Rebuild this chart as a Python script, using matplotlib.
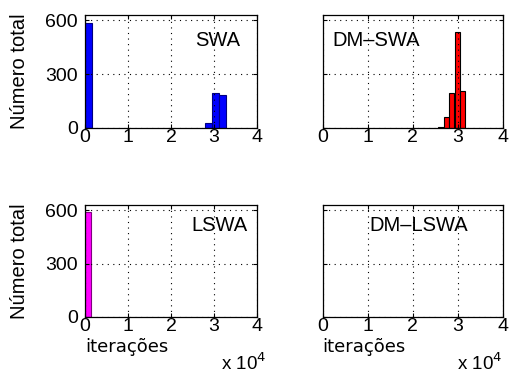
import matplotlib
matplotlib.use("Agg")
import matplotlib.pyplot as plt

# data
swa_edges = [0.0, 2.80, 2.96, 3.12]
swa_width = [0.17, 0.16, 0.16, 0.16]
swa_counts = [588, 26, 192, 183]

dmswa_edges = [2.57, 2.69, 2.81, 2.93, 3.04]
dmswa_width = 0.115
dmswa_counts = [4, 58, 196, 535, 207]

lswa_edges = [0.0]
lswa_width = 0.14
lswa_counts = [592]

xticks = [0, 1, 2, 3, 4]
yticks = [0, 300, 600]
titles = ["SWA", "DM\u2013SWA", "LSWA", "DM\u2013LSWA"]

plt.rcParams['font.family'] = ['Liberation Sans', 'DejaVu Sans']
fig = plt.figure(figsize=(5.09, 3.76), dpi=100)

pos = [
    [0.167, 0.660, 0.338, 0.300],
    [0.634, 0.660, 0.354, 0.300],
    [0.167, 0.157, 0.338, 0.298],
    [0.634, 0.157, 0.354, 0.298],
]
axes = [fig.add_axes(p) for p in pos]

axes[0].bar(swa_edges, swa_counts, width=swa_width, align='edge', color='#0000ff', edgecolor='#000080', linewidth=0.8)
axes[1].bar(dmswa_edges, dmswa_counts, width=dmswa_width, align='edge', color='#ff0000', edgecolor='#000000', linewidth=0.8)
axes[2].bar(lswa_edges, lswa_counts, width=lswa_width, align='edge', color='#ff00ff', edgecolor='#800080', linewidth=0.8)

text_pos = [(2.56, 490), (0.22, 490), (2.47, 514), (1.04, 514)]
for i, ax in enumerate(axes):
    ax.set_xlim(0, 4)
    ax.set_ylim(0, 630)
    ax.set_xticks(xticks)
    ax.set_yticks(yticks)
    ax.grid(True, linestyle=(0, (1, 4)), color='black', linewidth=0.8)
    ax.tick_params(direction='in', top=True, right=True, labelsize=14, length=3)
    ax.tick_params(axis='y', pad=5)
    ax.tick_params(axis='x', pad=1)
    for s in ax.spines.values():
        s.set_linewidth(0.9)
    if i in (1, 3):
        ax.set_yticklabels([])
    else:
        ax.set_ylabel("Número total", fontsize=14.5, labelpad=12)
    x, y = text_pos[i]
    ax.text(x, y, titles[i], fontsize=14.5, ha='left', va='center')

# x-axis labels and scale factors (pixel positions from figure bottom-left)
fig.text(85 / 509, 1 - 338 / 376, "iterações", fontsize=13, family='DejaVu Sans', ha='left', va='top')
fig.text(322 / 509, 1 - 338 / 376, "iterações", fontsize=13, family='DejaVu Sans', ha='left', va='top')
fig.text(221 / 509, 2 / 376, r"x 10$^{4}$", fontsize=13.5, ha='left', va='bottom')
fig.text(457 / 509, 2 / 376, r"x 10$^{4}$", fontsize=13.5, ha='left', va='bottom')

fig.savefig("out.png", dpi=100)
